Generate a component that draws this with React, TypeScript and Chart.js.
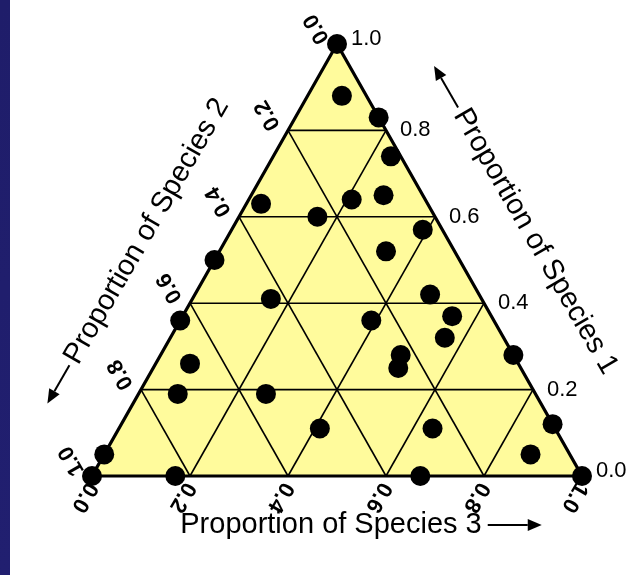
import React, { useEffect, useRef } from 'react';
import { Chart, registerables } from 'chart.js';

Chart.register(...registerables);

// Composition of each sample (proportions of the three species, summing to 1)
const species1 = [1.0, 0.88, 0.83, 0.74, 0.64, 0.65, 0.63, 0.6, 0.57, 0.52, 0.5, 0.41, 0.42, 0.37, 0.36, 0.32, 0.36, 0.28, 0.25, 0.28, 0.26, 0.19, 0.19, 0.11, 0.11, 0.12, 0.05, 0.05, 0.0, 0.0, 0.0, 0.0];
const species2 = [0.0, 0.05, 0.0, 0.02, 0.15, 0.08, 0.34, 0.24, 0.04, 0.14, 0.5, 0.43, 0.1, 0.08, 0.25, 0.12, 0.64, 0.23, 0.25, 0.0, 0.67, 0.73, 0.55, 0.48, 0.25, 0.0, 0.08, 0.95, 1.0, 0.83, 0.33, 0.0];
const species3 = [0.0, 0.07, 0.17, 0.24, 0.21, 0.27, 0.03, 0.16, 0.39, 0.34, 0.0, 0.16, 0.48, 0.55, 0.39, 0.56, 0.0, 0.49, 0.5, 0.72, 0.07, 0.08, 0.26, 0.41, 0.64, 0.88, 0.87, 0.0, 0.0, 0.17, 0.67, 1.0];

const gridLevels = [0.2, 0.4, 0.6, 0.8];
const tickValues = [0.0, 0.2, 0.4, 0.6, 0.8, 1.0];
const tickLabels = ['0.0', '0.2', '0.4', '0.6', '0.8', '1.0'];
const axisTitles = ['Proportion of Species 1', 'Proportion of Species 2', 'Proportion of Species 3'];

const FONT = '"Liberation Sans", Arial, Helvetica, sans-serif';
const FILL = '#fffb9c';

// Ternary -> cartesian: x runs along the base toward species 3, y is the species 1 height
const toXY = (s1: number, s3: number) => ({ x: s3 + s1 / 2, y: s1 });

function drawArrow(ctx: CanvasRenderingContext2D, x1: number, y1: number, x2: number, y2: number) {
  const ang = Math.atan2(y2 - y1, x2 - x1);
  const head = 14;
  const half = 6;
  const bx = x2 - head * Math.cos(ang);
  const by = y2 - head * Math.sin(ang);
  ctx.save();
  ctx.strokeStyle = '#000';
  ctx.fillStyle = '#000';
  ctx.lineWidth = 2;
  ctx.beginPath();
  ctx.moveTo(x1, y1);
  ctx.lineTo(bx, by);
  ctx.stroke();
  ctx.beginPath();
  ctx.moveTo(x2, y2);
  ctx.lineTo(bx + half * Math.sin(ang), by - half * Math.cos(ang));
  ctx.lineTo(bx - half * Math.sin(ang), by + half * Math.cos(ang));
  ctx.closePath();
  ctx.fill();
  ctx.restore();
}

function drawRotated(
  ctx: CanvasRenderingContext2D,
  text: string,
  x: number,
  y: number,
  deg: number,
  align: CanvasTextAlign,
  lift = 0
) {
  ctx.save();
  ctx.translate(x, y);
  ctx.rotate((deg * Math.PI) / 180);
  ctx.textAlign = align;
  ctx.textBaseline = 'middle';
  ctx.fillText(text, 0, -lift);
  ctx.restore();
}

const ternaryPlugin = {
  id: 'ternaryFrame',
  beforeDatasetsDraw(chart: any) {
    const { ctx, scales } = chart;
    const px = (s1: number, s3: number) => {
      const p = toXY(s1, s3);
      return { x: scales.x.getPixelForValue(p.x), y: scales.y.getPixelForValue(p.y) };
    };
    ctx.save();
    // page background and left band
    ctx.fillStyle = '#ffffff';
    ctx.fillRect(0, 0, chart.width, chart.height);
    const band = ctx.createLinearGradient(0, 0, 0, chart.height);
    band.addColorStop(0, '#1f1d6a');
    band.addColorStop(1, '#211f70');
    ctx.fillStyle = band;
    ctx.fillRect(0, 0, 10, chart.height);

    const A = px(1, 0);
    const L = px(0, 0);
    const R = px(0, 1);
    ctx.beginPath();
    ctx.moveTo(A.x, A.y);
    ctx.lineTo(L.x, L.y);
    ctx.lineTo(R.x, R.y);
    ctx.closePath();
    ctx.fillStyle = FILL;
    ctx.fill();

    ctx.strokeStyle = '#000';
    ctx.lineWidth = 1.6;
    gridLevels.forEach((v) => {
      const seg = (a: { x: number; y: number }, b: { x: number; y: number }) => {
        ctx.beginPath();
        ctx.moveTo(a.x, a.y);
        ctx.lineTo(b.x, b.y);
        ctx.stroke();
      };
      seg(px(v, 0), px(v, 1 - v)); // constant species 1
      seg(px(0, v), px(1 - v, v)); // constant species 3
      seg(px(0, 1 - v), px(1 - v, 0)); // constant species 2
    });

    ctx.lineWidth = 3.2;
    ctx.lineJoin = 'miter';
    ctx.beginPath();
    ctx.moveTo(A.x, A.y);
    ctx.lineTo(L.x, L.y);
    ctx.lineTo(R.x, R.y);
    ctx.closePath();
    ctx.stroke();
    ctx.restore();
  },
  afterDraw(chart: any) {
    const { ctx, scales } = chart;
    const px = (s1: number, s3: number) => {
      const p = toXY(s1, s3);
      return { x: scales.x.getPixelForValue(p.x), y: scales.y.getPixelForValue(p.y) };
    };
    ctx.save();
    ctx.fillStyle = '#000';
    const c60 = 0.5;
    const s60 = Math.sqrt(3) / 2;

    // species 1: right edge, horizontal labels
    ctx.font = `22px ${FONT}`;
    tickValues.forEach((v, i) => {
      const p = px(v, 1 - v);
      const dy = v === 0 || v === 1 ? -5 : 0;
      ctx.textAlign = 'left';
      ctx.textBaseline = 'middle';
      ctx.fillText(tickLabels[i], p.x + 14, p.y + dy);
    });

    ctx.font = `bold 22px ${FONT}`;
    // species 2: left edge, labels running up-left
    tickValues.forEach((v, i) => {
      const p = px(1 - v, 0);
      const d = 8;
      drawRotated(ctx, tickLabels[i], p.x - c60 * d, p.y - s60 * d, 240, 'left', 10);
    });
    // species 3: base, labels running down-left
    tickValues.forEach((v, i) => {
      const p = px(0, v);
      const d = 7;
      drawRotated(ctx, tickLabels[i], p.x - c60 * d, p.y + s60 * d, 120, 'left', 4);
    });

    // axis titles
    ctx.font = `29px ${FONT}`;
    const A = px(1, 0);
    const L = px(0, 0);
    const R = px(0, 1);

    // bottom
    const bw = ctx.measureText(axisTitles[2]).width;
    const bx = 331;
    const by = L.y + 49;
    ctx.textAlign = 'center';
    ctx.textBaseline = 'middle';
    ctx.fillText(axisTitles[2], bx, by);
    drawArrow(ctx, bx + bw / 2 + 6, by, bx + bw / 2 + 60, by);

    // left
    const lw = ctx.measureText(axisTitles[1]).width;
    const lmx = (A.x + L.x) / 2 - 73 * s60 - 9 * c60;
    const lmy = (A.y + L.y) / 2 - 73 * c60 + 9 * s60;
    drawRotated(ctx, axisTitles[1], lmx, lmy, -60, 'center');
    const lsx = lmx - (lw / 2) * c60;
    const lsy = lmy + (lw / 2) * s60;
    drawArrow(ctx, lsx - 4 * c60, lsy + 4 * s60, lsx - 48 * c60, lsy + 48 * s60);

    // right
    const rw = ctx.measureText(axisTitles[0]).width;
    const rmx = (A.x + R.x) / 2 + 75 * s60 + 22 * c60;
    const rmy = (A.y + R.y) / 2 - 75 * c60 + 22 * s60;
    drawRotated(ctx, axisTitles[0], rmx, rmy, 60, 'center');
    const rsx = rmx - (rw / 2) * c60;
    const rsy = rmy - (rw / 2) * s60;
    drawArrow(ctx, rsx - 4 * c60, rsy - 4 * s60, rsx - 52 * c60, rsy - 52 * s60);

    ctx.restore();
  },
};

export default function App() {
  const canvasRef = useRef<HTMLCanvasElement | null>(null);

  useEffect(() => {
    if (!canvasRef.current) return;
    const points = species1.map((s1, i) => toXY(s1, species3[i]));
    const chart = new Chart(canvasRef.current, {
      type: 'scatter',
      data: {
        datasets: [
          {
            label: 'Samples',
            data: points,
            backgroundColor: '#000',
            borderWidth: 0,
            pointRadius: 10,
            pointHoverRadius: 10,
            clip: false as any,
          },
        ],
      },
      options: {
        responsive: false,
        animation: false,
        layout: { padding: { left: 92, right: 49, top: 44, bottom: 99 } },
        scales: {
          x: { type: 'linear', min: 0, max: 1, display: false },
          y: { type: 'linear', min: 0, max: 1, display: false },
        },
        plugins: { legend: { display: false }, tooltip: { enabled: false } },
        events: [],
      },
      plugins: [ternaryPlugin],
    });
    return () => chart.destroy();
  }, []);

  return (
    <div style={{ position: 'fixed', left: 0, top: 0, width: 631, height: 575 }}>
      <canvas ref={canvasRef} width={631} height={575} style={{ display: 'block' }} />
    </div>
  );
}
